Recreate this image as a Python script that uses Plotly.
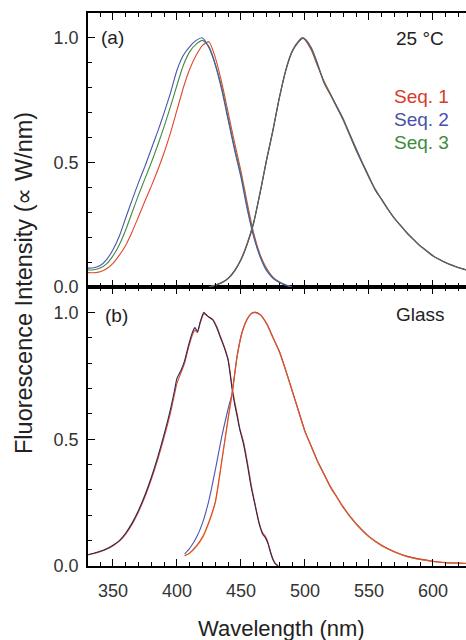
import plotly.graph_objects as go

# ---------------- data ----------------
# Panel (a), 25 °C : short-wavelength band
wl_a_left = [330, 335, 340, 345, 350, 355, 360, 365, 370, 375, 380, 385, 390, 395,
             400, 405, 410, 415, 420, 425, 430, 435, 440, 445, 450, 455, 460, 465,
             470, 475, 480, 485, 490]
a_left_seq1 = [0.058, 0.057, 0.061, 0.073, 0.095, 0.128, 0.168, 0.222, 0.283, 0.345, 0.405, 0.470,
               0.540, 0.620, 0.710, 0.800, 0.875, 0.930, 0.970, 0.985, 0.920, 0.820, 0.700, 0.580,
               0.465, 0.335, 0.215, 0.130, 0.075, 0.040, 0.020, 0.008, 0.0]
a_left_seq2 = [0.076, 0.077, 0.086, 0.110, 0.150, 0.205, 0.278, 0.350, 0.420, 0.485, 0.555, 0.625,
               0.700, 0.780, 0.870, 0.930, 0.965, 0.990, 1.000, 0.960, 0.890, 0.790, 0.670, 0.550,
               0.440, 0.310, 0.200, 0.120, 0.065, 0.035, 0.018, 0.007, 0.0]
a_left_seq3 = [0.068, 0.069, 0.076, 0.093, 0.125, 0.170, 0.230, 0.300, 0.370, 0.435, 0.500, 0.570,
               0.645, 0.725, 0.810, 0.890, 0.945, 0.975, 0.990, 0.965, 0.895, 0.800, 0.680, 0.560,
               0.450, 0.320, 0.205, 0.125, 0.070, 0.037, 0.020, 0.008, 0.0]

# Panel (a), 25 °C : long-wavelength band
wl_a_right = [425, 430, 435, 440, 445, 450, 455, 460, 465, 470, 475, 480, 485, 490, 495, 498,
              500, 505, 510, 515, 520, 525, 530, 535, 540, 545, 550, 555, 560, 565, 570, 575,
              580, 585, 590, 595, 600, 605, 610, 615, 620, 626]
a_right_seq1 = [0.0, 0.008, 0.018, 0.036, 0.066, 0.112, 0.178, 0.262, 0.382, 0.512, 0.632, 0.762,
                0.872, 0.948, 0.988, 1.000, 0.992, 0.950, 0.885, 0.825, 0.775, 0.722, 0.668, 0.608,
                0.548, 0.493, 0.440, 0.392, 0.350, 0.310, 0.276, 0.246, 0.214, 0.190, 0.166, 0.146,
                0.126, 0.110, 0.097, 0.086, 0.077, 0.068]
a_right_seq2 = [0.0, 0.007, 0.017, 0.034, 0.064, 0.108, 0.172, 0.258, 0.378, 0.508, 0.628, 0.758,
                0.868, 0.944, 0.984, 0.998, 0.996, 0.960, 0.895, 0.818, 0.772, 0.725, 0.675, 0.614,
                0.556, 0.498, 0.444, 0.388, 0.352, 0.312, 0.274, 0.244, 0.216, 0.189, 0.164, 0.144,
                0.124, 0.111, 0.098, 0.088, 0.078, 0.069]
a_right_seq3 = [0.0, 0.008, 0.018, 0.035, 0.065, 0.110, 0.175, 0.260, 0.380, 0.510, 0.630, 0.760,
                0.870, 0.945, 0.985, 1.000, 0.995, 0.955, 0.890, 0.820, 0.770, 0.720, 0.670, 0.610,
                0.550, 0.495, 0.440, 0.390, 0.350, 0.310, 0.275, 0.245, 0.215, 0.190, 0.165, 0.145,
                0.125, 0.110, 0.097, 0.087, 0.077, 0.068]

# Panel (b), glass : short-wavelength band
wl_b_left = [330, 335, 340, 345, 350, 355, 360, 365, 370, 375, 380, 385, 390, 395, 398, 400,
             403, 406, 409, 412, 414, 416, 418, 420, 421, 424, 428, 431, 434, 437, 440, 443,
             445, 447, 449, 452, 455, 458, 461, 464, 467, 469, 471, 473, 475, 477, 479]
b_left_dark = [0.044, 0.050, 0.058, 0.068, 0.082, 0.100, 0.130, 0.170, 0.220, 0.280, 0.350, 0.430,
               0.520, 0.620, 0.690, 0.740, 0.770, 0.810, 0.870, 0.920, 0.940, 0.925, 0.960, 0.990,
               1.000, 0.985, 0.970, 0.940, 0.900, 0.860, 0.810, 0.700, 0.640, 0.590, 0.540, 0.480,
               0.400, 0.310, 0.240, 0.170, 0.125, 0.112, 0.090, 0.055, 0.025, 0.008, 0.0]
b_left_red = [0.044, 0.049, 0.056, 0.066, 0.080, 0.098, 0.126, 0.165, 0.214, 0.273, 0.342, 0.420,
              0.508, 0.605, 0.675, 0.720, 0.760, 0.800, 0.860, 0.910, 0.930, 0.920, 0.955, 0.985,
              0.995, 0.985, 0.972, 0.945, 0.905, 0.865, 0.815, 0.710, 0.650, 0.600, 0.545, 0.490,
              0.410, 0.320, 0.245, 0.175, 0.130, 0.118, 0.095, 0.058, 0.028, 0.009, 0.0]

# Panel (b), glass : long-wavelength band
wl_b_right = [406, 410, 415, 420, 425, 430, 435, 440, 443, 447, 451, 455, 458, 461, 465, 470,
              475, 480, 485, 490, 495, 500, 505, 510, 515, 520, 525, 530, 540, 550, 560, 570,
              580, 590, 600, 610, 626]
b_right_blue = [0.047, 0.070, 0.110, 0.170, 0.260, 0.380, 0.510, 0.620, 0.680, 0.830, 0.925, 0.975,
                0.995, 1.000, 0.990, 0.955, 0.900, 0.845, 0.770, 0.690, 0.610, 0.530, 0.470, 0.410,
                0.360, 0.310, 0.270, 0.230, 0.165, 0.115, 0.080, 0.055, 0.037, 0.026, 0.018, 0.013,
                0.010]
b_right_orange = [0.040, 0.050, 0.075, 0.110, 0.170, 0.250, 0.410, 0.580, 0.675, 0.825, 0.922, 0.974,
                  0.994, 1.000, 0.990, 0.955, 0.900, 0.845, 0.770, 0.690, 0.610, 0.530, 0.470, 0.410,
                  0.360, 0.310, 0.270, 0.230, 0.165, 0.115, 0.080, 0.055, 0.037, 0.026, 0.018, 0.013,
                  0.010]
b_right_red = [0.040, 0.052, 0.078, 0.115, 0.175, 0.255, 0.415, 0.585, 0.678, 0.826, 0.923, 0.975,
               0.995, 1.000, 0.992, 0.957, 0.902, 0.847, 0.772, 0.692, 0.612, 0.532, 0.472, 0.412,
               0.362, 0.312, 0.272, 0.232, 0.167, 0.117, 0.082, 0.056, 0.038, 0.027, 0.019, 0.014,
               0.011]

x_tick_vals = [350, 400, 450, 500, 550, 600]
y_tick_vals = [0.0, 0.5, 1.0]

# ---------------- styling ----------------
RED = "#e2462e"
BLUE = "#4a55b0"
GREEN = "#3f8c3f"
DARK = "#2c2850"
ORANGE = "#d9a23a"
EMIS = "#4f6b52"
FONT = "Liberation Sans, Arial, sans-serif"

fig = go.Figure()

def add(x, y, color, xa, ya, width=1.1):
    fig.add_trace(go.Scatter(x=x, y=y, mode="lines", xaxis=xa, yaxis=ya,
                             line=dict(color=color, width=width, shape="spline", smoothing=0.6),
                             showlegend=False, hoverinfo="skip"))

# panel (a)
add(wl_a_left, a_left_seq1, RED, "x2", "y2")
add(wl_a_left, a_left_seq3, GREEN, "x2", "y2")
add(wl_a_left, a_left_seq2, BLUE, "x2", "y2")
add(wl_a_right, a_right_seq1, RED, "x2", "y2")
add(wl_a_right, a_right_seq2, BLUE, "x2", "y2")
add(wl_a_right, a_right_seq3, EMIS, "x2", "y2")

# panel (b)
add(wl_b_left, b_left_red, RED, "x", "y")
add(wl_b_left, b_left_dark, DARK, "x", "y")
add(wl_b_right, b_right_blue, BLUE, "x", "y")
add(wl_b_right, b_right_orange, ORANGE, "x", "y")
add(wl_b_right, b_right_red, RED, "x", "y")

XR = [330.5, 625.8]
YR = [0, 1.1]
SPLIT = 0.5045

xcommon = dict(range=XR, showline=True, linecolor="black", linewidth=1.6, mirror="ticks",
               ticks="inside", ticklen=7, tickwidth=1.4, tickcolor="black",
               tickmode="array", tickvals=x_tick_vals,
               minor=dict(ticks="inside", ticklen=4, tickwidth=1.2, tickcolor="black", dtick=10, tick0=0),
               showgrid=False, zeroline=False,
               tickfont=dict(family=FONT, size=18, color="#333333"))
ycommon = dict(range=YR, showline=True, linecolor="black", linewidth=1.6, mirror=False,
               ticks="inside", ticklen=7, tickwidth=1.4, tickcolor="black",
               tickmode="array", tickvals=y_tick_vals, tickformat=".1f",
               minor=dict(ticks="inside", ticklen=4, tickwidth=1.2, tickcolor="black", dtick=0.1, tick0=0),
               showgrid=False, zeroline=False, ticklabelstandoff=4,
               tickfont=dict(family=FONT, size=18, color="#333333"))

fig.update_layout(
    width=466, height=640,
    margin=dict(l=88, r=0, t=13, b=74),
    paper_bgcolor="white", plot_bgcolor="white",
    xaxis=dict(**xcommon, anchor="y", domain=[0, 1], showticklabels=True, ticklabelstandoff=8),
    xaxis2=dict(**xcommon, anchor="y2", domain=[0, 1], showticklabels=False, matches="x"),
    yaxis=dict(**ycommon, anchor="x", domain=[0, SPLIT]),
    yaxis2=dict(**ycommon, anchor="x2", domain=[SPLIT, 1]),
)

def txt(text, x, y, color="#222222", size=19, xanchor="left", angle=0):
    fig.add_annotation(text=text, x=x, y=y, xref="paper", yref="paper", showarrow=False,
                       xanchor=xanchor, yanchor="middle", textangle=angle,
                       font=dict(family=FONT, size=size, color=color))

def px_x(p):
    return (p - 88) / 378.0

def px_y(p):
    return (566 - p) / 553.0

txt("(a)", px_x(99), px_y(37))
txt("(b)", px_x(103), px_y(315))
txt("25 °C", px_x(394), px_y(38))
txt("Glass", px_x(394), px_y(314))
txt("Seq. 1", px_x(392), px_y(96), color="#d83a2c")
txt("Seq. 2", px_x(392), px_y(119), color="#4a50a8")
txt("Seq. 3", px_x(392), px_y(142), color="#3d8a3d")
txt("Fluorescence Intensity (\u221d W/nm)", px_x(24), px_y(283), size=23.5, xanchor="center", angle=-90)
txt("Wavelength (nm)", px_x(281), px_y(628), size=22, xanchor="center")

fig.write_html("out.html")
